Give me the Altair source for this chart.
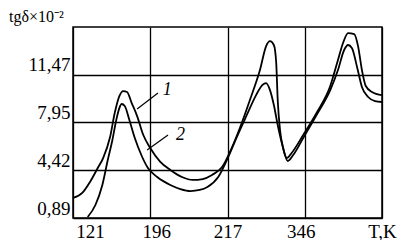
import altair as alt
import pandas as pd

# x positions are equally spaced axis slots (labels 121, 196, 217, 346, T,K)
x_ticks = [0, 1, 2, 3, 4]
x_tick_labels = ["121", "196", "217", "346", "T,K"]
y_ticks = [0.89, 4.42, 7.95, 11.47]

c1_x = [0.00, 0.12, 0.22, 0.32, 0.39, 0.48, 0.54, 0.60, 0.65, 0.70, 0.76, 0.83, 0.91, 1.00,
        1.13, 1.26, 1.41, 1.55, 1.68, 1.80, 1.93, 2.06, 2.16, 2.29, 2.42, 2.50, 2.55, 2.60,
        2.63, 2.65, 2.68, 2.72, 2.77, 2.83, 2.98, 3.16, 3.33, 3.43, 3.50, 3.56, 3.64, 3.69,
        3.74, 3.79, 3.87, 4.00]
c1_y = [2.37, 2.74, 3.55, 4.58, 5.32, 6.87, 8.65, 9.90, 10.27, 10.20, 9.38, 8.42, 7.02, 6.06,
        5.03, 4.44, 3.92, 3.70, 3.77, 4.07, 4.66, 6.13, 7.54, 9.61, 11.82, 13.59, 13.96, 13.67,
        12.41, 9.61, 7.39, 6.06, 5.32, 5.69, 7.02, 8.72, 10.64, 12.56, 13.89, 14.55, 14.48, 13.59,
        11.82, 10.64, 10.20, 9.97]

c2_x = [0.19, 0.29, 0.38, 0.45, 0.51, 0.56, 0.60, 0.63, 0.67, 0.73, 0.80, 0.89, 0.97, 1.09,
        1.26, 1.39, 1.52, 1.64, 1.74, 1.88, 2.01, 2.12, 2.25, 2.37, 2.45, 2.50, 2.55, 2.60,
        2.65, 2.71, 2.78, 2.85, 2.98, 3.16, 3.33, 3.43, 3.51, 3.56, 3.61, 3.68, 3.74, 3.82,
        3.91, 4.00]
c2_y = [0.96, 1.85, 3.33, 5.17, 6.65, 8.13, 9.01, 9.31, 9.16, 8.13, 6.80, 5.47, 4.58, 3.92,
        3.33, 3.03, 2.88, 2.96, 3.18, 3.92, 5.40, 6.87, 8.50, 9.97, 10.71, 10.86, 10.34, 9.24,
        7.76, 6.28, 5.10, 5.54, 6.80, 8.57, 10.34, 11.82, 13.30, 13.67, 13.45, 11.97, 10.57, 9.83,
        9.53, 9.46]

curve_names = ["1", "2"]
label_x = [1.22, 1.39]
label_y = [10.34, 7.02]
leader_x = [1.10, 1.23]
leader_y = [10.12, 7.02]
leader_x2 = [0.83, 0.96]
leader_y2 = [8.94, 5.91]

df = pd.concat([
    pd.DataFrame({"x": c1_x, "y": c1_y, "curve": "1"}),
    pd.DataFrame({"x": c2_x, "y": c2_y, "curve": "2"}),
])
ann = pd.DataFrame({"name": curve_names, "lx": label_x, "ly": label_y,
                    "x": leader_x, "y": leader_y, "x2": leader_x2, "y2": leader_y2})

FONT = "Liberation Serif"

xscale = alt.Scale(domain=[0, 4], nice=False, zero=False)
yscale = alt.Scale(domain=[0.89, 15.0], nice=False, zero=False)

xaxis = alt.Axis(values=x_ticks, grid=True, gridColor="black", gridWidth=1.3, gridOpacity=1,
                 ticks=False, domain=False, title=None, labelFlush=False,
                 labelExpr="['121','196','217','346','T,K'][datum.value]",
                 labelFont=FONT, labelFontSize=19, labelColor="black", labelPadding=4,
                 labelOffset={"condition": [{"test": "datum.value == 0", "value": 17},
                                            {"test": "datum.value == 1", "value": 6},
                                            {"test": "datum.value == 3", "value": -4}],
                              "value": 0})
yaxis = alt.Axis(values=y_ticks, grid=True, gridColor="black", gridWidth=1.3, gridOpacity=1,
                 ticks=False, domain=False, title=None,
                 labelExpr="replace(format(datum.value, '.2f'), '.', ',')",
                 labelFont=FONT, labelFontSize=19, labelColor="black", labelPadding=3,
                 labelOffset=-10)

lines = alt.Chart(df).mark_line(color="black", strokeWidth=1.8, interpolate="monotone").encode(
    x=alt.X("x:Q", scale=xscale, axis=xaxis),
    y=alt.Y("y:Q", scale=yscale, axis=yaxis),
    detail="curve:N",
)

leaders = alt.Chart(ann).mark_rule(color="black", strokeWidth=1.2).encode(
    x="x:Q", y="y:Q", x2="x2:Q", y2="y2:Q")

labels = alt.Chart(ann).mark_text(font=FONT, fontSize=18, fontStyle="italic",
                                  color="black").encode(
    x="lx:Q", y="ly:Q", text="name:N")

title = alt.Chart(pd.DataFrame({"t": ["tgδ×10⁻²"]})).mark_text(
    font=FONT, fontSize=16, align="left", baseline="alphabetic", color="black").encode(
    x=alt.value(-64), y=alt.value(-5), text="t:N")

chart = alt.layer(lines, leaders, labels, title).properties(
    width=309, height=191,
    autosize=alt.AutoSizeParams(type="none"),
    padding={"left": 65, "top": 19, "right": 20, "bottom": 22},
).configure_view(stroke="black", strokeWidth=1.5)

chart.save("out.html", embed_options={"renderer": "svg", "actions": False})
